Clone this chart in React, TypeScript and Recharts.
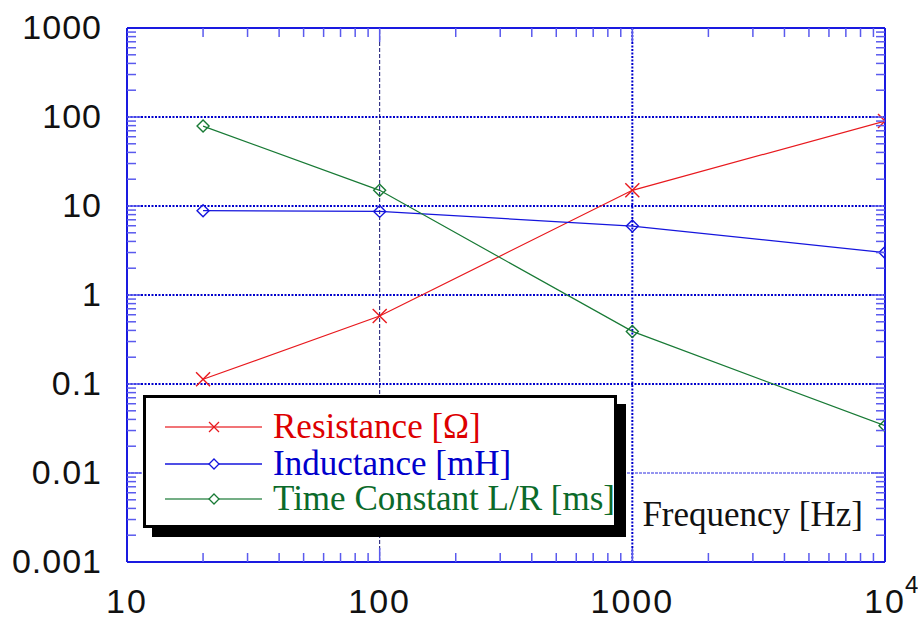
import React from 'react';
import { LineChart, Line, XAxis, YAxis, ReferenceLine, Legend, Label } from 'recharts';

// ---- data ----
const frequency = [20, 100, 1000, 10000];
const resistance = [0.113, 0.58, 15, 90];
const inductance = [8.85, 8.7, 5.95, 3.0];
const timeConstant = [79, 15, 0.39, 0.034];

const seriesNames = ['Resistance [Ω]', 'Inductance [mH]', 'Time Constant L/R [ms]'];
const xAxisTitle = 'Frequency [Hz]';

const xDecades = [10, 100, 1000, 10000];
const xTickLabels = ['10', '100', '1000', '10'];
const xLastSuperscript = '4';
const yDecades = [0.001, 0.01, 0.1, 1, 10, 100, 1000];
const yTickLabels = ['0.001', '0.01', '0.1', '1', '10', '100', '1000'];
const minorSteps = [2, 3, 4, 5, 6, 7, 8, 9];

const thickGridY = [0.1, 1, 10, 100];
const thinGridY = [0.01];
const thickGridX = [1000];
const thinGridX = [100];

const data = frequency.map((f, i) => ({
  f,
  r: resistance[i],
  l: inductance[i],
  t: timeConstant[i],
}));

const withMinors = (decades: number[]) => {
  const out: number[] = [];
  decades.forEach((d, i) => {
    out.push(d);
    if (i < decades.length - 1) minorSteps.forEach((m) => out.push(+(d * m).toPrecision(6)));
  });
  return out;
};
const xTicks = withMinors(xDecades);
const yTicks = withMinors(yDecades);

// ---- styles ----
const RED = '#e8191e';
const BLUE = '#1515dd';
const GREEN = '#187a35';
const FRAME = '#1a1ae0';
const TICK = '#5a5aee';
const LABEL_FONT = '"Liberation Sans", Arial, sans-serif';
const SERIF = '"Liberation Serif", "Times New Roman", serif';

const MINOR = 9;
const MAJOR = 14;

const isXEdge = (v: number) => v === xDecades[0] || v === xDecades[xDecades.length - 1];
const isYEdge = (v: number) => v === yDecades[0] || v === yDecades[yDecades.length - 1];

const BottomTick = (props: any) => {
  const { x, y, payload } = props;
  const v = payload.value;
  const idx = xDecades.indexOf(v);
  const major = idx >= 0;
  return (
    <g>
      {!isXEdge(v) && (
        <line x1={x} y1={y} x2={x} y2={y - (major ? MAJOR : MINOR)} stroke={TICK} strokeWidth={1.5} />
      )}
      {major && (
        <text x={x} y={y + 51} textAnchor="middle" fontFamily={LABEL_FONT} fontSize={34} letterSpacing={2} fill="#111">
          {xTickLabels[idx]}
        </text>
      )}
      {major && idx === xDecades.length - 1 && (
        <text x={x + 20} y={y + 31} fontFamily={LABEL_FONT} fontSize={24} fill="#111">
          {xLastSuperscript}
        </text>
      )}
    </g>
  );
};

const TopTick = (props: any) => {
  const { x, y, payload } = props;
  const v = payload.value;
  const major = xDecades.indexOf(v) >= 0;
  if (isXEdge(v)) return <g />;
  return <line x1={x} y1={y} x2={x} y2={y + (major ? MAJOR : MINOR)} stroke={TICK} strokeWidth={1.5} />;
};

const LeftTick = (props: any) => {
  const { x, y, payload } = props;
  const v = payload.value;
  const idx = yDecades.indexOf(v);
  const major = idx >= 0;
  return (
    <g>
      {!isYEdge(v) && (
        <line x1={x} y1={y} x2={x + (major ? MAJOR : MINOR)} y2={y} stroke={TICK} strokeWidth={1.5} />
      )}
      {major && (
        <text x={x - 25} y={y + 11} textAnchor="end" fontFamily={LABEL_FONT} fontSize={34} letterSpacing={1} fill="#111">
          {yTickLabels[idx]}
        </text>
      )}
    </g>
  );
};

const RightTick = (props: any) => {
  const { x, y, payload } = props;
  const v = payload.value;
  const major = yDecades.indexOf(v) >= 0;
  if (isYEdge(v)) return <g />;
  return <line x1={x} y1={y} x2={x - (major ? MAJOR : MINOR)} y2={y} stroke={TICK} strokeWidth={1.5} />;
};

const crossDot = (color: string) => (p: any) => {
  const { cx, cy, index } = p;
  if (cx == null || cy == null) return <g key={`c${index}`} />;
  const s = 7;
  return (
    <g key={`c${index}`}>
      <line x1={cx - s} y1={cy - s} x2={cx + s} y2={cy + s} stroke={color} strokeWidth={1.4} />
      <line x1={cx - s} y1={cy + s} x2={cx + s} y2={cy - s} stroke={color} strokeWidth={1.4} />
    </g>
  );
};

const diamondDot = (color: string) => (p: any) => {
  const { cx, cy, index } = p;
  if (cx == null || cy == null) return <g key={`d${index}`} />;
  const s = 6;
  return (
    <polygon
      key={`d${index}`}
      points={`${cx},${cy - s} ${cx + s},${cy} ${cx},${cy + s} ${cx - s},${cy}`}
      fill="none"
      stroke={color}
      strokeWidth={1.4}
    />
  );
};

const legendColors = [RED, BLUE, GREEN];
const legendTextColors = ['#dd0000', '#0000cc', '#0b6a2a'];

const LegendBox = () => {
  const rows = [32, 69, 104];
  return (
    <div
      style={{
        width: 474,
        height: 133,
        boxSizing: 'border-box',
        border: '3px solid #000',
        background: '#fff',
        boxShadow: '9px 9px 0 #000',
      }}
    >
      <svg width={468} height={127} style={{ display: 'block' }}>
        {rows.map((ry, i) => {
          const cy = ry - 3;
          const cx = 68;
          return (
            <g key={i}>
              <line x1={19} y1={cy} x2={116} y2={cy} stroke={legendColors[i]} strokeWidth={1.3} opacity={i === 1 ? 1 : 0.8} />
              {i === 0 ? (
                <g>
                  <line x1={cx - 5} y1={cy - 5} x2={cx + 5} y2={cy + 5} stroke={legendColors[i]} strokeWidth={1.3} />
                  <line x1={cx - 5} y1={cy + 5} x2={cx + 5} y2={cy - 5} stroke={legendColors[i]} strokeWidth={1.3} />
                </g>
              ) : (
                <polygon
                  points={`${cx},${cy - 5} ${cx + 5},${cy} ${cx},${cy + 5} ${cx - 5},${cy}`}
                  fill="#fff"
                  stroke={legendColors[i]}
                  strokeWidth={1.3}
                />
              )}
              <text x={127} y={cy + 11} fontFamily={SERIF} fontSize={35} fill={legendTextColors[i]}>
                {seriesNames[i]}
              </text>
            </g>
          );
        })}
      </svg>
    </div>
  );
};

const FreqLabel = (props: any) => {
  const vb = props.viewBox || {};
  const x = (vb.x ?? 127) + (vb.width ?? 758) - 22;
  const y = (vb.y ?? 562) - 36;
  return (
    <text x={x} y={y} textAnchor="end" fontFamily={SERIF} fontSize={35} fill="#111">
      {xAxisTitle}
    </text>
  );
};

export default function App() {
  return (
    <div style={{ position: 'absolute', left: 0, top: 0, width: 918, height: 621, background: '#fff' }}>
      <LineChart width={918} height={621} data={data} margin={{ top: 27, right: 32, bottom: 0, left: 27 }}>
        <XAxis
          dataKey="f"
          type="number"
          scale="log"
          domain={[10, 10000]}
          allowDataOverflow
          ticks={xTicks}
          interval={0}
          tick={<BottomTick />}
          tickLine={false}
          tickSize={0}
          tickMargin={0}
          height={59}
          axisLine={{ stroke: FRAME, strokeWidth: 2 }}
        >
          <Label content={<FreqLabel />} position="insideTopRight" />
        </XAxis>
        <XAxis
          xAxisId="top"
          orientation="top"
          dataKey="f"
          type="number"
          scale="log"
          domain={[10, 10000]}
          allowDataOverflow
          ticks={xTicks}
          interval={0}
          tick={<TopTick />}
          tickLine={false}
          tickSize={0}
          tickMargin={0}
          height={1}
          axisLine={{ stroke: FRAME, strokeWidth: 2 }}
        />
        <YAxis
          type="number"
          scale="log"
          domain={[0.001, 1000]}
          allowDataOverflow
          ticks={yTicks}
          interval={0}
          tick={<LeftTick />}
          tickLine={false}
          tickSize={0}
          tickMargin={0}
          width={100}
          axisLine={{ stroke: FRAME, strokeWidth: 2 }}
        />
        <YAxis
          yAxisId="right"
          orientation="right"
          type="number"
          scale="log"
          domain={[0.001, 1000]}
          allowDataOverflow
          ticks={yTicks}
          interval={0}
          tick={<RightTick />}
          tickLine={false}
          tickSize={0}
          tickMargin={0}
          width={1}
          axisLine={{ stroke: FRAME, strokeWidth: 2 }}
        />
        {thickGridY.map((v) => (
          <ReferenceLine key={`gy${v}`} y={v} stroke="#0000cc" strokeWidth={2} strokeDasharray="2 1.5" />
        ))}
        {thinGridY.map((v) => (
          <ReferenceLine key={`ty${v}`} y={v} stroke="#2a2ae0" strokeWidth={1} strokeDasharray="3 1" />
        ))}
        {thickGridX.map((v) => (
          <ReferenceLine key={`gx${v}`} x={v} stroke="#0000cc" strokeWidth={2} strokeDasharray="2 1.5" />
        ))}
        {thinGridX.map((v) => (
          <ReferenceLine key={`tx${v}`} x={v} stroke="#101070" strokeWidth={1} strokeDasharray="4 2" />
        ))}
        <Line
          dataKey="r"
          name={seriesNames[0]}
          type="linear"
          stroke={RED}
          strokeWidth={1.2}
          dot={crossDot(RED)}
          isAnimationActive={false}
        />
        <Line
          dataKey="l"
          name={seriesNames[1]}
          type="linear"
          stroke={BLUE}
          strokeWidth={1.2}
          dot={diamondDot(BLUE)}
          isAnimationActive={false}
        />
        <Line
          dataKey="t"
          name={seriesNames[2]}
          type="linear"
          stroke={GREEN}
          strokeWidth={1.2}
          dot={diamondDot(GREEN)}
          isAnimationActive={false}
        />
        <Legend
          layout="vertical"
          align="center"
          verticalAlign="middle"
          content={<LegendBox />}
          wrapperStyle={{ left: 143, top: 395, width: 474, height: 133 }}
        />
      </LineChart>
    </div>
  );
}
